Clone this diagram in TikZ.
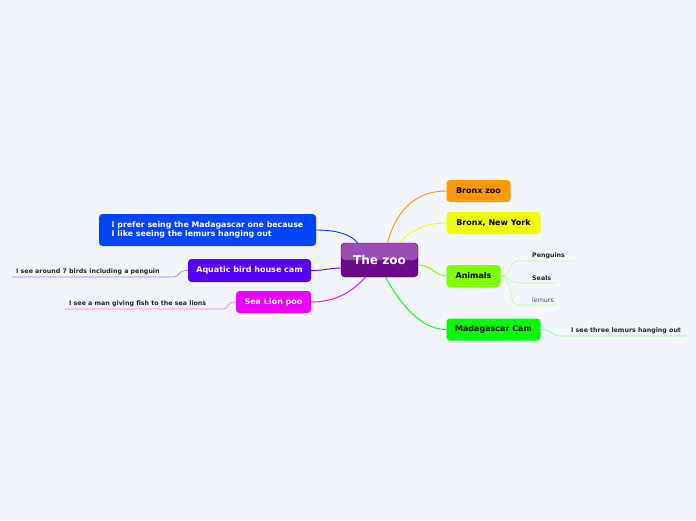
\documentclass[tikz,border=0pt]{standalone}
\usepackage{fontspec}
\setmainfont{DejaVu Sans}
\usepackage{tikz}
\usetikzlibrary{positioning}

\definecolor{bgzoo}{HTML}{F3F5FD}
\definecolor{zootop}{HTML}{9A4DB3}
\definecolor{zoobot}{HTML}{6A0A8A}
\definecolor{zooedge}{HTML}{3E0052}
\definecolor{cbronx}{HTML}{FF9900}
\definecolor{cyork}{HTML}{F0FF00}
\definecolor{canimal}{HTML}{80FF00}
\definecolor{cmada}{HTML}{00FF00}
\definecolor{cprefer}{HTML}{0044FF}
\definecolor{caqua}{HTML}{5500FF}
\definecolor{csea}{HTML}{EE00FF}
\definecolor{lanimal}{HTML}{B8FF90}
\definecolor{lmada}{HTML}{80FF80}
\definecolor{laqua}{HTML}{A070FF}
\definecolor{lsea}{HTML}{F070FF}

\tikzset{
  topic/.style={rounded corners=3.5pt, inner sep=0pt, font=\fontsize{8}{9.5}\selectfont\bfseries},
  leaf/.style={inner xsep=4pt, inner ysep=2pt, font=\fontsize{6.3}{7}\selectfont\bfseries, text=black!85},
  branch/.style={line width=0.9pt},
  twig/.style={line width=0.6pt}
}

\begin{document}
\begin{tikzpicture}[x=1pt, y=-1pt]
\fill[bgzoo] (0,0) rectangle (696,520);
\useasboundingbox (0,0) rectangle (696,520);
% Central topic
\node[rounded corners=4pt, draw=zooedge, fill=zoobot, minimum width=77pt, minimum height=34pt, text=white,
  font=\fontsize{12}{14}\selectfont\bfseries,
  path picture={\fill[zootop] (path picture bounding box.north west) rectangle (path picture bounding box.east);}]
  (zoo) at (379.5,260) {The zoo};
% Right side
\node[topic, fill=cbronx, minimum width=64pt, minimum height=22pt] (bronx) at (478.5,191) {Bronx zoo};
\node[topic, fill=cyork, minimum width=94pt, minimum height=22pt] (york) at (493.5,223) {Bronx, New York};
\node[topic, fill=canimal, minimum width=54pt, minimum height=22pt] (animals) at (473.5,276) {Animals};
\node[topic, fill=cmada, minimum width=94pt, minimum height=22pt] (mada) at (493.5,329.5) {Madagascar Cam};
% Left side
\node[topic, fill=cprefer, minimum width=217pt, minimum height=32pt, text=white, align=left,
  font=\fontsize{7.85}{9}\selectfont\bfseries] (prefer) at (207.5,230)
  {I prefer seing the Madagascar one because\\I like seeing the lemurs hanging out};
\node[topic, fill=caqua, minimum width=123pt, minimum height=23pt, text=white] (aqua) at (249.5,270.5) {Aquatic bird house cam};
\node[topic, fill=csea, minimum width=75pt, minimum height=22pt, text=white] (sea) at (273.5,302) {Sea Lion poo};
% Branches
\draw[branch, cbronx] ([xshift=8pt]zoo.north) .. controls (398,205) and (420,191) .. (bronx.west);
\draw[branch, cyork] ([xshift=20pt]zoo.north) .. controls (412,228) and (430,223) .. (york.west);
\draw[branch, canimal] ([yshift=-5pt]zoo.east) .. controls (432,265) and (435,276) .. (animals.west);
\draw[branch, cmada] ([xshift=6pt]zoo.south) .. controls (405,312) and (425,329.5) .. (mada.west);
\draw[branch, cprefer] (prefer.east) .. controls (340,230) and (352,236) .. ([xshift=-22pt]zoo.north);
\draw[branch, caqua] (aqua.east) .. controls (325,270.5) and (330,268) .. ([yshift=-8pt]zoo.west);
\draw[branch, csea] (sea.east) .. controls (340,302) and (355,288) .. ([xshift=-14pt]zoo.south);
% Animals leaves
\foreach \nm/\txt/\yy/\ext in {peng/Penguins/261/6, seal/Seals/283/0} {
  \node[leaf, anchor=south west] (\nm) at (528,\yy) {\txt};
  \draw[twig, lanimal] (animals.east) .. controls +(12,0) and +(-10,0) .. ([xshift=-10pt]\nm.south west) -- ([xshift=\ext pt]\nm.south east);
}
\node[leaf, anchor=south west, font=\fontsize{6.3}{7}\selectfont, text=black!70] (lem) at (528,305) {lemurs};
\draw[twig, lanimal] (animals.east) .. controls +(12,0) and +(-10,0) .. ([xshift=-10pt]lem.south west) -- (lem.south east);
% Other leaves
\node[leaf, anchor=south west] (three) at (567,336) {I see three lemurs hanging out};
\draw[twig, lmada] (mada.east) .. controls +(14,0) and +(-12,0) .. ([xshift=-6pt]three.south west) -- ([xshift=1pt]three.south east);
\node[leaf, anchor=south west] (birds) at (12,277) {I see around 7 birds including a penguin};
\draw[twig, laqua] (aqua.west) .. controls +(-12,0) and +(10,0) .. ([xshift=8pt]birds.south east) -- (birds.south west);
\node[leaf, anchor=south west] (lions) at (65,309) {I see a man giving fish to the sea lions};
\draw[twig, lsea] (sea.west) .. controls +(-12,0) and +(10,0) .. ([xshift=11pt]lions.south east) -- (lions.south west);
\end{tikzpicture}
\end{document}
